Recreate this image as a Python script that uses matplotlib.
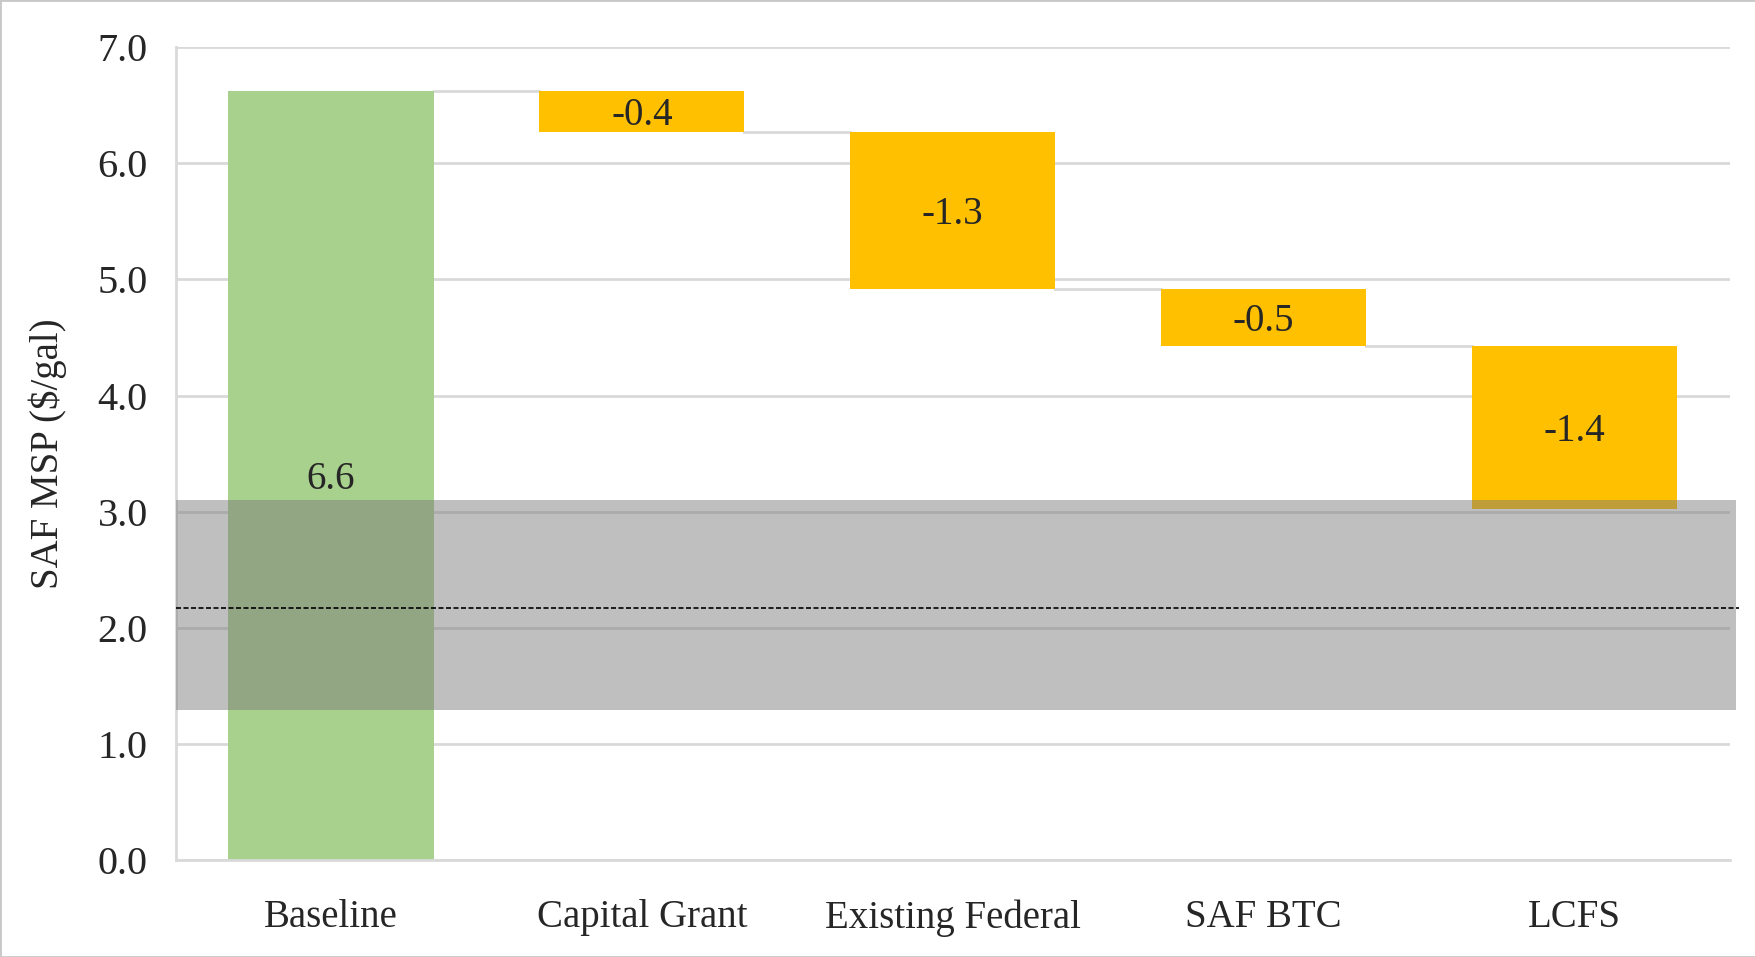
import numpy as np
import matplotlib.pyplot as plt

# data
categories = ["Baseline", "Capital Grant", "Existing Federal", "SAF BTC", "LCFS"]
baseline = 6.62
changes = [-0.35, -1.35, -0.49, -1.41]
labels = ["6.6", "-0.4", "-1.3", "-0.5", "-1.4"]
band_low, band_high = 1.29, 3.10
jet_price = 2.17

plt.rcParams['font.family'] = ['Liberation Serif', 'DejaVu Serif']

# running totals for the waterfall
tops = [baseline]
bottoms = [0.0]
level = baseline
for c in changes:
    tops.append(level)
    level = level + c
    bottoms.append(level)
tops = np.array(tops)
bottoms = np.array(bottoms)
heights = tops - bottoms

fig = plt.figure(figsize=(17.56, 9.57), dpi=100)
ax = fig.add_axes([0.100, 0.101, 0.885, 0.850])

x = np.arange(len(categories))
width = 0.66
colors = ["#a9d18e"] + ["#ffc000"] * len(changes)
ax.bar(x, heights, bottom=bottoms, width=width, color=colors, zorder=2)

# connectors between bars
for i in range(len(categories) - 1):
    lvl = tops[i + 1]
    ax.plot([x[i] + width / 2, x[i + 1] - width / 2], [lvl, lvl],
            color="#d9d9d9", lw=2, zorder=1)

# value labels in bar middle (nudged down a touch like the original)
for i in range(len(categories)):
    ax.annotate(labels[i], (x[i], bottoms[i] + heights[i] / 2),
                xytext=(0, -3), textcoords="offset points",
                ha="center", va="center", fontsize=28, color="#262626", zorder=3)

# jet fuel price range band + average
ax.fill_between([-0.5, 4.52], band_low, band_high, color="#797979", alpha=0.48,
                lw=0, zorder=4, clip_on=False)
ax.plot([-0.5, 4.53], [jet_price, jet_price], color="black", lw=1.2,
        ls=(0, (3, 1.5)), zorder=5, clip_on=False)

ax.set_xlim(-0.5, 4.5)
ax.set_ylim(0, 7)
ax.set_yticks(np.arange(0, 7.5, 1.0))
ax.set_yticklabels([f"{v:.1f}" for v in np.arange(0, 7.5, 1.0)])
ax.set_xticks(x)
ax.set_xticklabels(categories)
ax.tick_params(axis="y", length=0, pad=20, labelsize=29, colors="#262626")
ax.tick_params(axis="x", length=0, pad=28, labelsize=28, colors="#262626")
ax.yaxis.grid(True, color="#d9d9d9", lw=2, zorder=0)
ax.set_axisbelow(True)
for s in ["top", "right"]:
    ax.spines[s].set_visible(False)
ax.spines["left"].set_color("#d9d9d9")
ax.spines["bottom"].set_color("#d9d9d9")
ax.spines["left"].set_linewidth(2)
ax.spines["bottom"].set_linewidth(2)
ax.set_ylabel("SAF MSP ($/gal)", fontsize=28, color="#262626")
ax.yaxis.set_label_coords(-0.070, 0.5)

# light frame around figure
fig.patches.append(plt.Rectangle((0, 0), 1, 1, transform=fig.transFigure,
                                 fill=False, edgecolor="#c8c8c8", lw=2))

fig.savefig("out.png", dpi=100)
